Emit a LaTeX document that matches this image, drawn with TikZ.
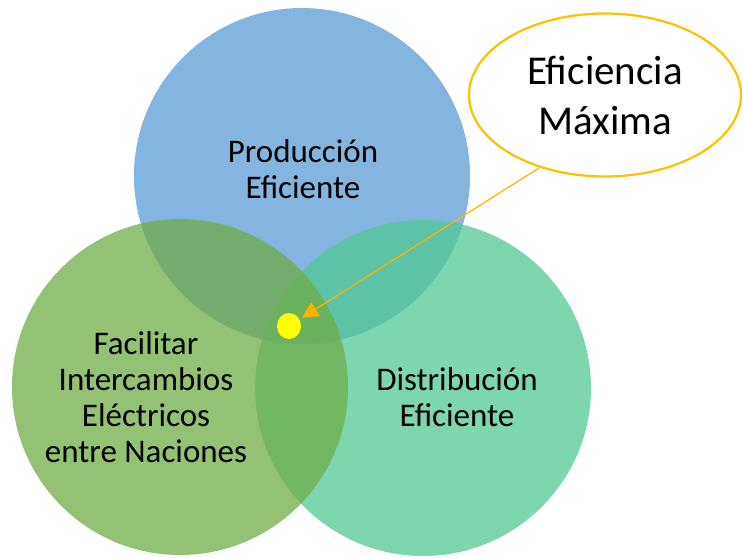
\documentclass[tikz,border=0pt]{standalone}
\usepackage{fontspec}
\setmainfont{Carlito}
\usepackage{tikz}
\usetikzlibrary{arrows.meta}
\usetikzlibrary{shapes.geometric}

\definecolor{prodblue}{HTML}{5B9BD5}
\definecolor{distteal}{HTML}{52C893}
\definecolor{facilgreen}{HTML}{70AD47}
\definecolor{callyellow}{HTML}{FFC000}
\definecolor{arrowgold}{HTML}{FFB300}
\definecolor{dotyellow}{HTML}{FFFF00}

\tikzset{
  venn/.style={circle, minimum size=336pt, inner sep=0pt, fill opacity=0.75},
  vennlabel/.style={align=center, font=\fontsize{33}{36}\selectfont},
  callout/.style={ellipse, draw=callyellow, line width=2.2pt, fill=white,
    minimum width=272pt, minimum height=163pt, inner sep=0pt, align=center,
    font=\fontsize{41}{50}\selectfont},
  callarrow/.style={-{Triangle[length=16pt, width=16pt]}, draw=arrowgold,
    line width=1.2pt, shorten >=3pt}
}

\begin{document}
\begin{tikzpicture}[x=1pt, y=-1pt]
\useasboundingbox (0,0) rectangle (743,558);
%%% Draws circles
% top, right, left in that order
\node[venn, fill=prodblue] (prod) at (302,176){};
\node[venn, fill=distteal] (dist) at (423,388){};
\node[venn, fill=facilgreen] (facil) at (180,387){};
% labels circles
\node[vennlabel] (prodtext) at (303,169) {Producción\\Eficiente};
\node[vennlabel] (disttext) at (457,397) {Distribución\\Eficiente};
\node[vennlabel] (faciltext) at (146,397) {Facilitar\\Intercambios\\Eléctricos\\entre Naciones};
%%% Draws callout
\node[ellipse, fill=dotyellow, minimum width=24pt, minimum height=26pt, inner sep=0pt] (dot) at (289,326){};
\node[callout] (max) at (605,95) {Eficiencia\\Máxima};
\coordinate (tail) at (539,168);
\draw[callarrow] (tail) -- (dot);
\end{tikzpicture}
\end{document}
